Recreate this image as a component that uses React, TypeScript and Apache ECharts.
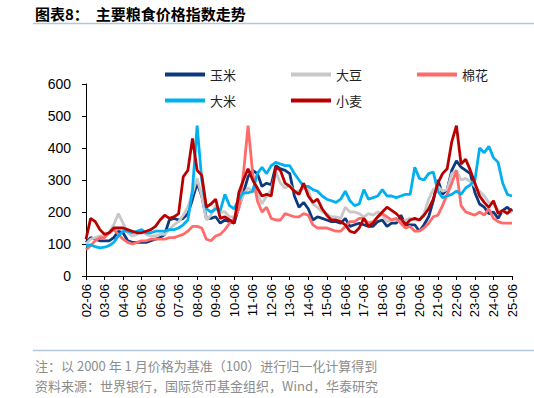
import React, { useEffect, useRef } from "react";
import * as echarts from "echarts";

// Quarterly categories from 2002-06 to 2025-06
const quarterMonths = ["06", "09", "12", "03"];
const categories: string[] = [];
for (let i = 0; i <= 92; i++) {
  const m = quarterMonths[i % 4];
  const year = m === "03" ? 2002 + Math.floor(i / 4) + 1 : 2002 + Math.floor(i / 4);
  categories.push(`${year}-${m}`);
}

const corn = [
  105, 120, 115, 110, 110, 110, 120, 140, 135, 110, 105, 105, 105, 105, 110, 115,
  120, 130, 175, 180, 175, 180, 195, 240, 290, 250, 180, 180, 185, 165, 175, 170,
  165, 215, 260, 310, 330, 320, 280, 290, 285, 345, 335, 330, 320, 250, 215, 230,
  210, 175, 185, 180, 175, 170, 170, 165, 180, 155, 160, 165, 160, 155, 155, 170,
  175, 155, 165, 165, 190, 160, 160, 160, 140, 160, 185, 235, 300, 255, 270, 330,
  360, 340, 330, 320, 260, 225, 215, 195, 200, 180, 205, 215, 200,
];
const soybean = [
  100, 115, 120, 125, 125, 135, 160, 195, 165, 135, 125, 130, 140, 130, 125, 125,
  130, 130, 145, 160, 170, 190, 215, 260, 305, 250, 175, 190, 220, 200, 200, 185,
  185, 215, 255, 275, 265, 260, 225, 250, 270, 325, 290, 275, 285, 265, 265, 275,
  270, 225, 215, 200, 195, 185, 185, 180, 215, 200, 200, 195, 185, 195, 190, 200,
  190, 170, 175, 175, 170, 175, 180, 175, 175, 195, 240, 270, 280, 265, 270, 320,
  330, 300, 305, 295, 280, 265, 250, 230, 225, 205, 200, 200, 200,
];
const cotton = [
  82, 95, 110, 120, 120, 135, 145, 130, 115, 105, 100, 105, 110, 110, 115, 115,
  115, 115, 120, 120, 125, 130, 140, 155, 155, 150, 115, 110, 125, 130, 145, 165,
  180, 210, 320, 470, 320, 235, 200, 215, 180, 175, 175, 195, 190, 185, 185, 195,
  190, 160, 150, 150, 150, 145, 140, 140, 155, 170, 170, 180, 180, 165, 170, 185,
  195, 185, 175, 180, 165, 150, 155, 140, 140, 150, 165, 185, 190, 220, 255, 290,
  330, 220, 200, 195, 190, 200, 190, 210, 180, 170, 165, 165, 165,
];
const rice = [
  95, 97, 92, 88, 90, 95, 105, 125, 140, 140, 135, 140, 145, 135, 135, 140,
  140, 140, 145, 145, 150, 160, 175, 270, 470, 300, 210, 200, 210, 205, 255, 220,
  210, 240, 260, 260, 265, 320, 340, 320, 345, 355, 350, 345, 345, 320, 300, 280,
  280, 270, 265, 250, 240, 235, 230, 240, 265, 235, 220, 225, 270, 240, 245, 250,
  270, 250, 250, 245, 250, 255, 255, 340, 305, 300, 320, 325, 265, 245, 250, 255,
  265, 255, 275, 285, 300, 400, 385, 405, 370, 355, 290, 255, 250,
];
const wheat = [
  115, 180, 170, 145, 130, 135, 150, 150, 150, 145, 140, 135, 135, 140, 145, 155,
  175, 190, 180, 185, 195, 310, 330, 430, 330, 315, 215, 225, 240, 180, 185, 175,
  165, 260, 300, 335, 300, 275, 250, 255, 250, 340, 330, 290, 280, 265, 255, 290,
  250, 230, 240, 210, 190, 175, 175, 170, 160, 140, 135, 150, 180, 155, 165, 185,
  200, 215, 205, 195, 180, 160, 175, 180, 175, 190, 210, 240, 290, 320, 335, 420,
  470, 350, 365, 330, 290, 250, 230, 215, 235, 195, 205, 195, 210,
];

const seriesNames = ["玉米", "大豆", "棉花", "大米", "小麦"];
const seriesColors = ["#0D3A7E", "#C8C8C8", "#FF6B6B", "#00B0F0", "#B80000"];
const seriesData = [corn, soybean, cotton, rice, wheat];

const titleText = "图表8：  主要粮食价格指数走势";
const noteText = "注：以 2000 年 1 月价格为基准（100）进行归一化计算得到";
const sourceText = "资料来源：世界银行，国际货币基金组织，Wind，华泰研究";

export default function App() {
  const ref = useRef<HTMLDivElement>(null);
  useEffect(() => {
    if (!ref.current) return;
    const chart = echarts.init(ref.current, undefined, { renderer: "svg" });
    const legendBase = {
      left: 160,
      itemWidth: 40,
      itemHeight: 4,
      itemGap: 55,
      icon: "rect",
      textStyle: { fontSize: 13, color: "#222", fontFamily: "Noto Sans CJK SC" },
    };
    chart.setOption({
      animation: false,
      backgroundColor: "#fff",
      legend: [
        { ...legendBase, top: 63, data: ["玉米", "大豆", "棉花"] },
        { ...legendBase, top: 89, data: ["大米", "小麦"] },
      ],
      grid: { left: 86, right: 22, top: 84, bottom: 122 },
      xAxis: {
        type: "category",
        data: categories,
        boundaryGap: false,
        axisLine: { lineStyle: { color: "#000", width: 1 } },
        axisTick: { interval: 3, length: 4, lineStyle: { color: "#000" } },
        axisLabel: {
          interval: 3,
          rotate: 90,
          fontSize: 13,
          color: "#000",
          fontFamily: "Liberation Sans, Arial",
          margin: 8,
          formatter: (v: string) => v.slice(2),
        },
        splitLine: { show: false },
      },
      yAxis: {
        type: "value",
        min: 0,
        max: 600,
        interval: 100,
        axisLine: { show: true, lineStyle: { color: "#000", width: 1 } },
        axisTick: { show: true, length: 4, lineStyle: { color: "#000" } },
        axisLabel: { fontSize: 14, color: "#000", fontFamily: "Liberation Sans, Arial", margin: 15 },
        splitLine: { show: false },
      },
      series: seriesNames.map((name, i) => ({
        name,
        type: "line",
        data: seriesData[i],
        symbol: "none",
        color: seriesColors[i],
        lineStyle: { width: 2.8, color: seriesColors[i] },
      })),
      graphic: [
        {
          type: "text",
          left: 35,
          top: 6,
          style: {
            text: titleText,
            fontSize: 15,
            fontWeight: "bold",
            fill: "#000",
            fontFamily: "Noto Sans CJK SC",
          },
        },
        {
          type: "line",
          shape: { x1: 33, y1: 23.5, x2: 534, y2: 23.5 },
          style: { stroke: "#B4C6DA", lineWidth: 1.5 },
        },
        {
          type: "line",
          shape: { x1: 33, y1: 350.5, x2: 534, y2: 350.5 },
          style: { stroke: "#B4C6DA", lineWidth: 1.5 },
        },
        {
          type: "text",
          left: 35,
          top: 359,
          style: { text: noteText, fontSize: 13, fill: "#8C8C8C", fontFamily: "Noto Sans CJK SC" },
        },
        {
          type: "text",
          left: 35,
          top: 379,
          style: { text: sourceText, fontSize: 13, fill: "#8C8C8C", fontFamily: "Noto Sans CJK SC" },
        },
      ],
    });
    return () => chart.dispose();
  }, []);
  return (
    <div
      ref={ref}
      style={{ position: "absolute", left: 0, top: 0, width: 534, height: 398 }}
    />
  );
}
